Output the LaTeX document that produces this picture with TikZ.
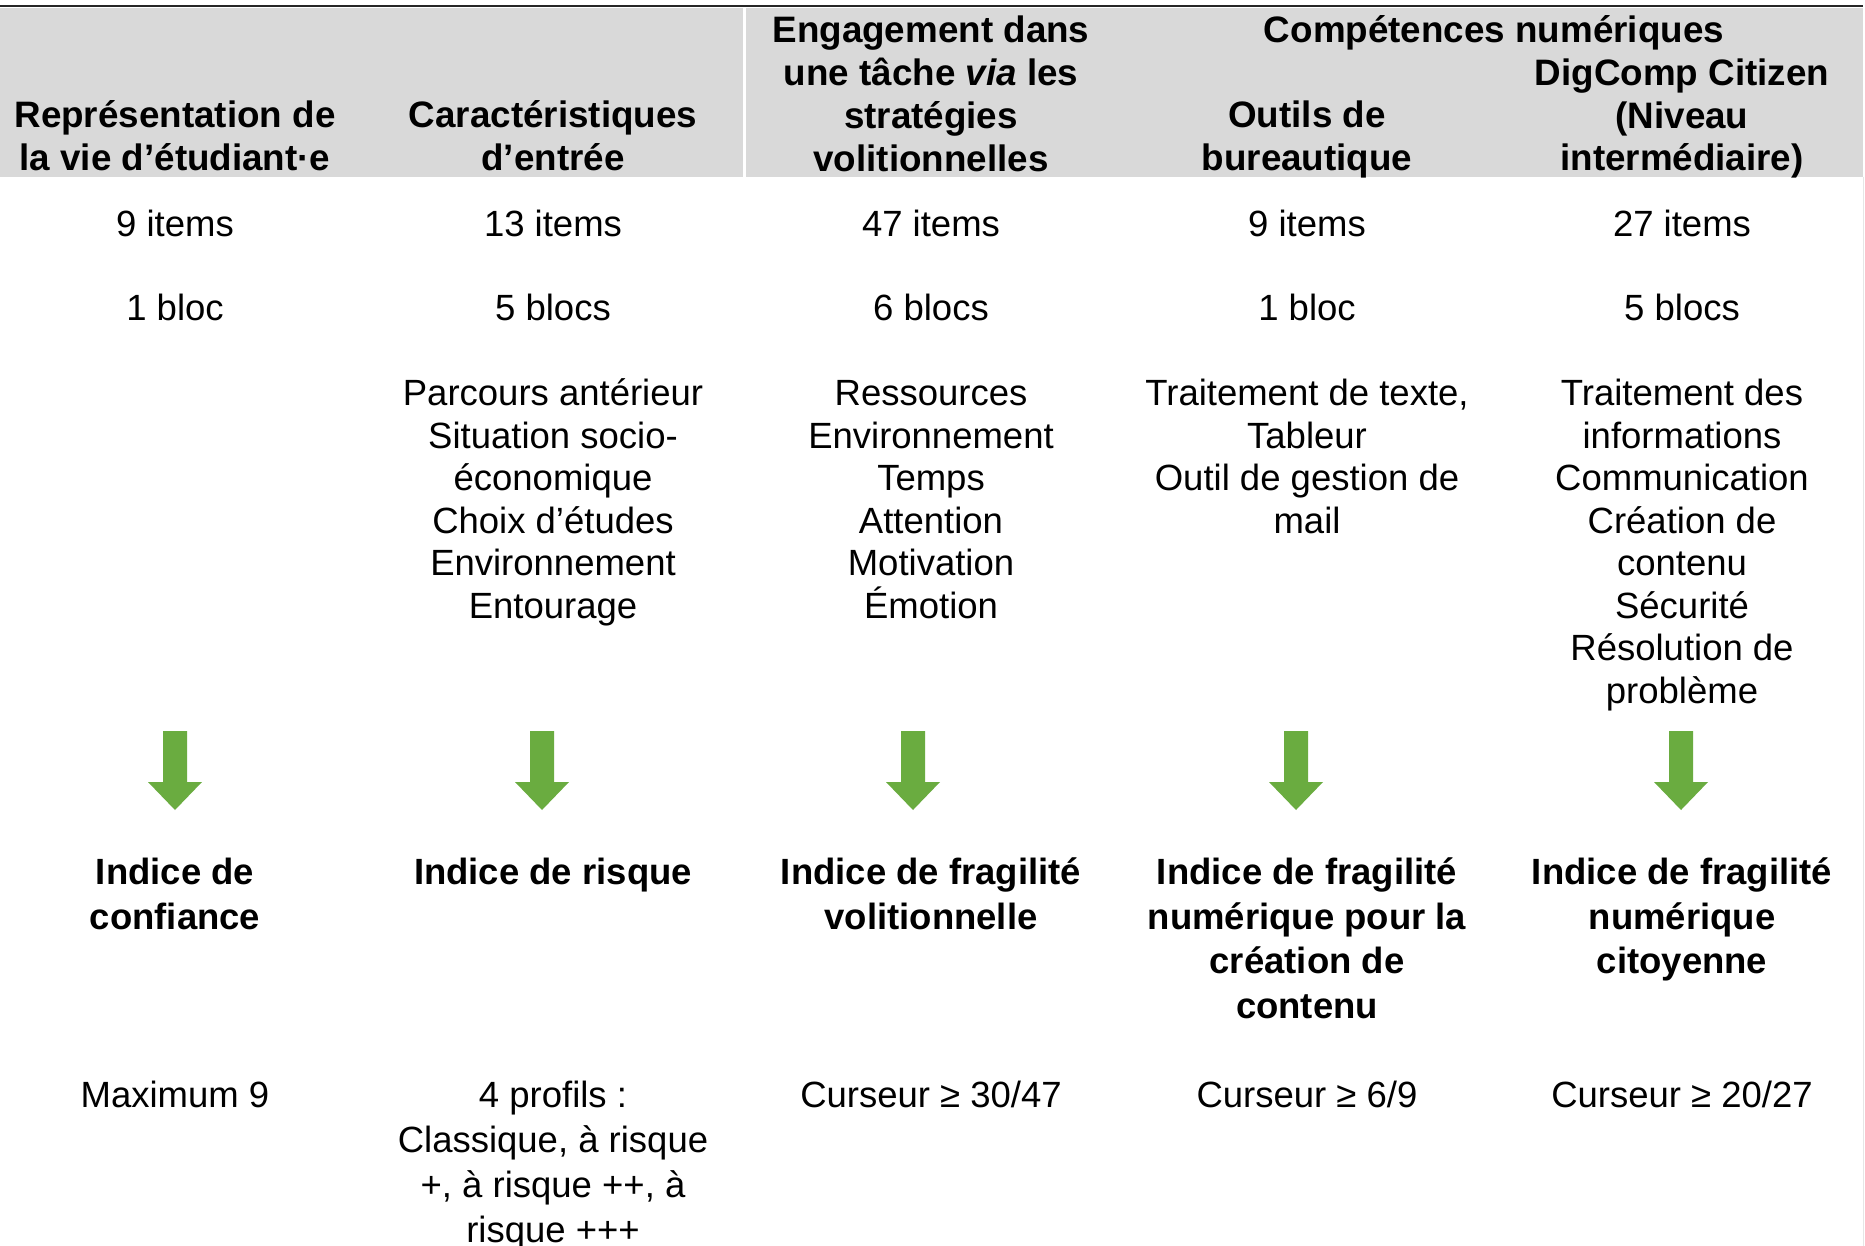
\documentclass[tikz,border=0pt]{standalone}
\usepackage{fontspec}
\setmainfont{Liberation Sans}
\definecolor{bandgray}{HTML}{D9D9D9}
\definecolor{rulecol}{HTML}{262626}
\definecolor{arrgreen}{RGB}{106,172,64}
\definecolor{edgegray}{HTML}{E6E6E6}
\newcommand{\ml}[1]{\begin{tabular}[t]{@{}c@{}}#1\end{tabular}}
\tikzset{
  hd/.style={anchor=base, inner sep=0pt, font=\fontsize{36.8}{42.7}\selectfont\bfseries},
  tx/.style={anchor=base, inner sep=0pt, font=\fontsize{36.5}{42.5}\selectfont},
  ix/.style={anchor=base, inner sep=0pt, font=\fontsize{36.5}{44.7}\selectfont\bfseries},
  bt/.style={anchor=base, inner sep=0pt, font=\fontsize{36.5}{45}\selectfont},
  blockarrow/.style={fill=arrgreen},
}
\begin{document}
\begin{tikzpicture}[x=1pt,y=-1pt]
\useasboundingbox (0,0) rectangle (1865,1246);
\fill[white] (0,0) rectangle (1865,1246);
% header band
\fill[bandgray] (0,8) rectangle (1863,177);
\fill[white] (743,8) rectangle (746,177);
\draw[rulecol, line width=2.6pt] (0,6) -- (1863,6);
\draw[edgegray, line width=1pt] (1863.5,177) -- (1863.5,1246);
% header texts
\node[hd] (h1) at (175,127.5) {\ml{Représentation de\\la vie d’étudiant·e}};
\node[hd] (h2) at (553,127.5) {\ml{Caractéristiques\\d’entrée}};
\node[hd] (h3) at (931,43) {\ml{Engagement dans\\une tâche \textit{via} les\\stratégies\\volitionnelles}};
\node[hd] (h45) at (1494,43) {Compétences numériques};
\node[hd] (h4) at (1307,127.5) {\ml{Outils de\\bureautique}};
\node[hd] (h5) at (1682,85.5) {\ml{DigComp Citizen\\(Niveau\\intermédiaire)}};
% items
\node[tx] (i1) at (175,237) {9 items};
\node[tx] (i2) at (553,237) {13 items};
\node[tx] (i3) at (931,237) {47 items};
\node[tx] (i4) at (1307,237) {9 items};
\node[tx] (i5) at (1682,237) {27 items};
% blocs
\node[tx] (b1) at (175,321) {1 bloc};
\node[tx] (b2) at (553,321) {5 blocs};
\node[tx] (b3) at (931,321) {6 blocs};
\node[tx] (b4) at (1307,321) {1 bloc};
\node[tx] (b5) at (1682,321) {5 blocs};
% lists
\node[tx] (l2) at (553,405.5) {\ml{Parcours antérieur\\Situation socio-\\économique\\Choix d’études\\Environnement\\Entourage}};
\node[tx] (l3) at (931,405.5) {\ml{Ressources\\Environnement\\Temps\\Attention\\Motivation\\\smash{É}motion}};
\node[tx] (l4) at (1307,405.5) {\ml{Traitement de texte,\\Tableur\\Outil de gestion de\\mail}};
\node[tx] (l5) at (1682,405.5) {\ml{Traitement des\\informations\\Communication\\Création de\\contenu\\Sécurité\\Résolution de\\problème}};
% arrows
\foreach \ax/\nm in {175/a1,542/a2,913/a3,1296/a4,1681/a5}{
  \coordinate (\nm) at (\ax,731);
  \fill[blockarrow] ([xshift=-12pt]\nm) -- ([xshift=12pt]\nm) -- ([xshift=12pt,yshift=-51pt]\nm)
    -- ([xshift=27pt,yshift=-51pt]\nm) -- ([yshift=-79pt]\nm) -- ([xshift=-27pt,yshift=-51pt]\nm)
    -- ([xshift=-12pt,yshift=-51pt]\nm) -- cycle;
}
% indices
\node[ix] (x1) at (175,884.5) {\ml{Indice de\\confiance}};
\node[ix] (x2) at (553,884.5) {Indice de risque};
\node[ix] (x3) at (931,884.5) {\ml{Indice de fragilité\\volitionnelle}};
\node[ix] (x4) at (1307,884.5) {\ml{Indice de fragilité\\numérique pour la\\création de\\contenu}};
\node[ix] (x5) at (1682,884.5) {\ml{Indice de fragilité\\numérique\\citoyenne}};
% bottom
\node[bt] (m1) at (175,1107.5) {Maximum 9};
\node[bt] (m2) at (553,1107.5) {\ml{4 profils :\\Classique, à risque\\+, à risque ++, à\\risque +++}};
\node[bt] (m3) at (931,1107.5) {Curseur ≥ 30/47};
\node[bt] (m4) at (1307,1107.5) {Curseur ≥ 6/9};
\node[bt] (m5) at (1682,1107.5) {Curseur ≥ 20/27};
\end{tikzpicture}
\end{document}
